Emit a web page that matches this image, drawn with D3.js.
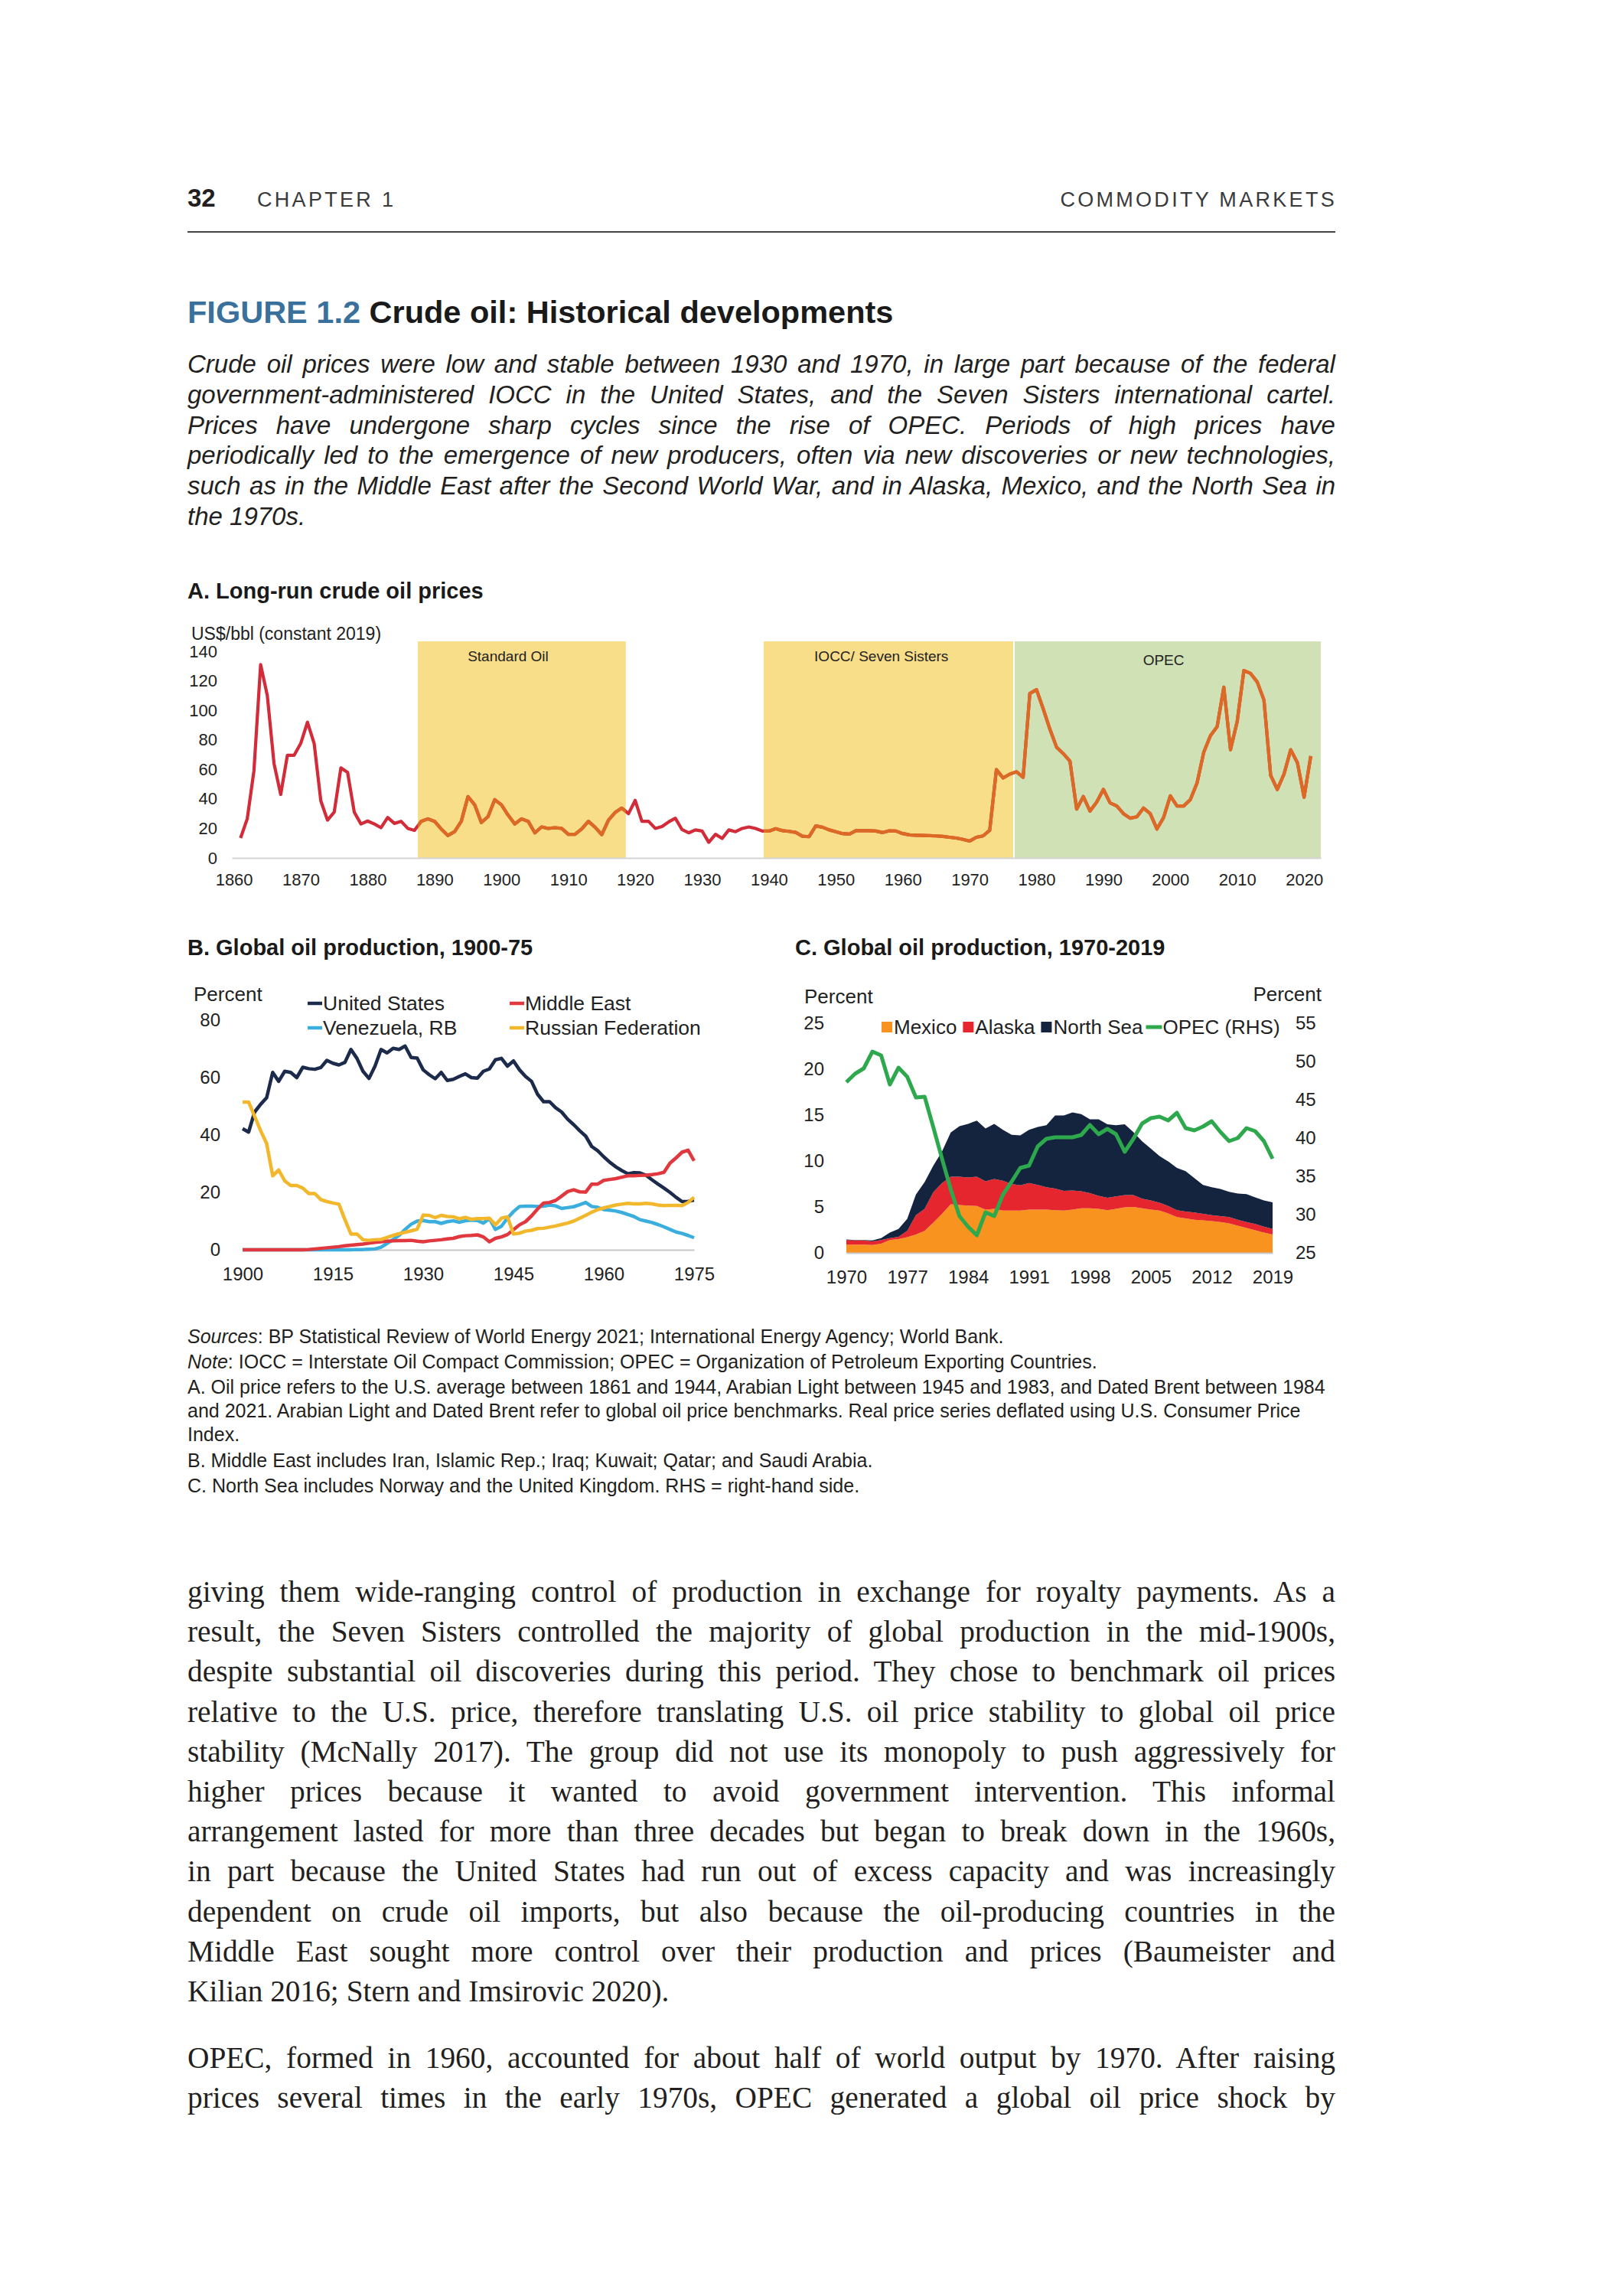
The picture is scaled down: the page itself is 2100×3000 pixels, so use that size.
<!DOCTYPE html>
<html><head><meta charset="utf-8">
<script src="https://cdn.jsdelivr.net/npm/d3@7/dist/d3.min.js"></script>
<style>
body{margin:0;background:#fff}
svg text{font-family:"Liberation Sans",Arial,Helvetica,sans-serif}
</style></head><body>
<svg id="page" width="2100" height="3000"></svg>
<script>
// ---------------- DATA ----------------
// Panel A: long-run crude oil prices, US$/bbl (constant 2019), 1861-2021
const priceYears = d3.range(1861, 2022);
const priceValues = [
13.5,26.5,59,131,110,64,43,69.5,69.5,77.6,92,77.6,38.6,25.6,31,61,58,31,23,25,
23,20.5,27.4,23.4,24.8,20,18.7,24.8,26.5,24.8,19.6,15.2,17.8,24.8,41.6,36,24,28,39.5,36,
29,23,26.5,24.8,17,21,20,20.5,20,16,16,19.6,24.8,20.8,15.8,25.6,30.8,33.8,30,39,
24.8,24.8,20,21.3,24.4,26.9,19.2,17,19,18.2,10.6,16,13.2,19,17.8,20,21,20,18.2,18.2,
19.8,18.5,18,17.3,14.7,14.4,21.7,20.8,19,17.8,16.5,16.1,18.5,18.5,18.5,18.2,17.2,18.4,18.2,16.5,
15.6,15.4,15.2,15.1,14.9,14.6,14,13.5,12.6,11.4,14,14.9,18.7,59.8,54.2,56.8,58.4,54.6,111.4,114,
101,87.2,75,70.7,65.5,33.1,41.6,31.7,37.8,46.4,37.3,35.2,30,26.9,27.9,33.8,30,19.6,27.4,42.1,
35.2,35.2,39.5,50.8,71.6,82.8,88.9,115.7,73.3,92.4,127,125,119.2,107,56,46.4,56.8,73.3,64.6,41.2,69];
const priceTicksY = [0,20,40,60,80,100,120,140];
const priceTicksX = [1860,1870,1880,1890,1900,1910,1920,1930,1940,1950,1960,1970,1980,1990,2000,2010,2020];
const periodNames = ["Standard Oil","IOCC/ Seven Sisters","OPEC"];
const periodStart = [1887.5, 1939.2, 1976.5];
const periodEnd   = [1918.6, 1976.5, 2022.5];
const periodLabelYear = [1901, 1956.8, 1999];

// Panel B: share of global oil production, percent, 1900-1975
const prodYearsB = d3.range(1900, 1976);
const usShare = [
42.2,41,48,50.7,53,61.8,58.7,62.2,61.8,60,63.6,63.1,62.9,63.5,66,65,64.4,65.3,69.8,66.7,
62.2,59.7,64,69.8,68.6,70.2,69.8,71,67,66.8,62.7,61,59.6,61.8,59,59.4,60.4,61.3,60,59.8,
62.2,63,66.2,66.7,64,65.8,62.7,60.4,58.7,54.2,51.6,51.6,49.5,48,45.5,43.6,41.5,39.6,36,34.5,
32.4,30.5,28.9,27.6,26.5,26.9,26.8,26,24.4,22.9,21.5,20,18.3,16.8,16.9,17.3];
const meShare = [
0,0,0,0,0,0,0,0,0,0,0,0.1,0.3,0.5,0.7,0.9,1.1,1.4,1.6,1.8,
2,2.3,2.6,2.8,3,3.1,3.2,3.2,3.3,3,2.8,3.1,3.3,3.5,3.8,4,4.6,4.9,5,5.2,
4.5,2.8,4,4.5,5.3,7,8.7,9.8,11.8,14.2,16.3,16.5,17.2,18.7,20.3,20.9,20.2,20.1,22.9,22.9,
24.2,24.5,24.8,25.3,25.8,25.8,25.9,26,26.2,26.5,27,30.2,32,34,34.7,31];
const venShare = [
0,0,0,0,0,0,0,0,0,0,0,0,0,0,0,0,0,0,0,0.1,
0.1,0.2,0.3,0.9,2.2,3.6,5,7.1,8.9,10,10.2,9.8,9.8,9.2,9.8,10.1,9.6,10.1,10.3,10.2,
9.3,10.9,7.1,8.2,11,13.3,15.1,15.2,15.2,15.1,15.2,15.6,15.3,14.4,14.7,15,15.7,16.5,15.1,14.8,
14,13.8,13.5,13,12.3,11.6,10.5,10,9.5,8.8,8,7.1,6.2,5.7,5,4.2];
const rusShare = [
51.5,51.5,46.5,41.5,37,25.8,27.8,24,22.4,22.4,21.5,19.6,19.6,17.5,16.8,16.3,15.9,10.5,5.5,5.5,
3.5,3.3,3.5,3.6,4.3,5,5.6,6.1,6.6,7.2,12.1,12,11.2,12,11.6,11.5,10.8,11.3,10.6,10.9,
10.9,11,8.7,11,11.5,5.5,5.8,6.5,6.8,7.4,7.5,7.9,8.3,8.8,9.3,10,11,12,13.1,14,
14.6,15.1,15.6,15.9,16.2,16,16,16.2,16,15.6,15.4,15.5,15.5,15.4,16.5,18.3];
const seriesNamesB = ["United States","Middle East","Venezuela, RB","Russian Federation"];
const ticksBY = [0,20,40,60,80];
const ticksBX = [1900,1915,1930,1945,1960,1975];

// Panel C: share of global oil production, percent, 1970-2019
const prodYearsC = d3.range(1970, 2020);
const mexicoShare = [
0.9,0.9,0.9,0.85,1.0,1.4,1.5,1.7,2.0,2.4,3.3,4.25,5.3,5.2,5.15,5.1,4.7,4.8,4.6,4.6,
4.6,4.7,4.7,4.7,4.65,4.6,4.7,4.85,4.85,4.8,4.65,4.8,4.95,5.0,4.85,4.7,4.6,4.3,3.9,3.75,
3.6,3.55,3.45,3.35,3.2,2.95,2.7,2.45,2.2,2.0];
const alaskaShare = [
0.5,0.45,0.45,0.4,0.4,0.2,0.25,0.7,2.1,2.4,3.3,3.35,3.0,3.1,3.05,3.2,3.1,3.25,3.25,2.9,
2.75,2.9,2.7,2.45,2.35,2.15,2.1,1.85,1.65,1.4,1.35,1.35,1.35,1.3,1.05,1.0,0.85,0.8,0.75,0.75,
0.8,0.7,0.65,0.65,0.7,0.65,0.65,0.7,0.65,0.6];
const northSeaShare = [
0.05,0.05,0.05,0.1,0.2,0.6,0.85,1.3,2.25,2.9,2.9,3.45,4.8,5.5,5.85,6.1,5.75,6.0,5.55,5.35,
5.45,5.8,6.3,6.75,7.95,8.2,8.5,8.4,8.05,8.35,8.0,7.75,7.7,6.85,6.25,5.65,5.1,4.85,4.6,4.4,
3.75,3.15,3.05,2.95,2.75,2.85,3.05,2.9,2.85,2.9];
const opecShare = [
47.3,48.4,49.1,51.3,50.8,47.0,49.2,48.0,45.3,45.4,41.4,37.3,33.3,29.8,28.4,27.3,30.3,29.8,32.6,34.3,
36.1,36.4,38.9,39.9,40.1,40.1,40.1,40.4,41.7,40.5,41.2,40.5,38.2,39.9,41.9,42.6,42.8,42.3,43.3,41.3,
41.0,41.5,42.2,40.8,39.6,40.0,41.3,40.9,39.6,37.3];
const ticksCL = [0,5,10,15,20,25];
const ticksCR = [25,30,35,40,45,50,55];
const ticksCX = [1970,1977,1984,1991,1998,2005,2012,2019];

// ---------------- TEXT ----------------
const captionLines = [
"Crude oil prices were low and stable between 1930 and 1970, in large part because of the federal",
"government-administered IOCC in the United States, and the Seven Sisters international cartel.",
"Prices have undergone sharp cycles since the rise of OPEC. Periods of high prices have",
"periodically led to the emergence of new producers, often via new discoveries or new technologies,",
"such as in the Middle East after the Second World War, and in Alaska, Mexico, and the North Sea in",
"the 1970s."];
const noteLines = [
["Sources",": BP Statistical Review of World Energy 2021; International Energy Agency; World Bank."],
["Note",": IOCC = Interstate Oil Compact Commission; OPEC = Organization of Petroleum Exporting Countries."],
["","A. Oil price refers to the U.S. average between 1861 and 1944, Arabian Light between 1945 and 1983, and Dated Brent between 1984"],
["","and 2021. Arabian Light and Dated Brent refer to global oil price benchmarks. Real price series deflated using U.S. Consumer Price"],
["","Index."],
["","B. Middle East includes Iran, Islamic Rep.; Iraq; Kuwait; Qatar; and Saudi Arabia."],
["","C. North Sea includes Norway and the United Kingdom. RHS = right-hand side."]];
const bodyPara1 = [
"giving them wide-ranging control of production in exchange for royalty payments. As a",
"result, the Seven Sisters controlled the majority of global production in the mid-1900s,",
"despite substantial oil discoveries during this period. They chose to benchmark oil prices",
"relative to the U.S. price, therefore translating U.S. oil price stability to global oil price",
"stability (McNally 2017). The group did not use its monopoly to push aggressively for",
"higher prices because it wanted to avoid government intervention. This informal",
"arrangement lasted for more than three decades but began to break down in the 1960s,",
"in part because the United States had run out of excess capacity and was increasingly",
"dependent on crude oil imports, but also because the oil-producing countries in the",
"Middle East sought more control over their production and prices (Baumeister and",
"Kilian 2016; Stern and Imsirovic 2020)."];
const bodyPara2 = [
"OPEC, formed in 1960, accounted for about half of world output by 1970. After raising",
"prices several times in the early 1970s, OPEC generated a global oil price shock by"];

// ---------------- DRAW ----------------
const svg = d3.select("#page");
svg.append("rect").attr("width",2100).attr("height",3000).attr("fill","#fff");
const SERIF = '"Liberation Serif","Times New Roman",serif';
const INK = "#231f20";
const L = 245, R = 1745, W = R - L;

function justify(t, width){
  const node = t.node();
  const n = (node.textContent.match(/ /g)||[]).length;
  if(!n) return;
  const w = node.getComputedTextLength();
  t.style("word-spacing", ((width - w)/n).toFixed(2)+"px");
}
// font size so that a probe string has the given natural width
function fitSize(str, baseFs, targetW, attrs){
  const p = svg.append("text").attr("font-size",baseFs).text(str);
  Object.entries(attrs||{}).forEach(([k,v])=>p.attr(k,v));
  const w = p.node().getComputedTextLength();
  p.remove();
  return baseFs * targetW / w;
}

// Header
svg.append("text").attr("x",L).attr("y",270).attr("font-size",33).attr("font-weight","bold").attr("fill",INK).text("32");
svg.append("text").attr("x",336).attr("y",270).attr("font-size",27).attr("letter-spacing",3.3).attr("fill","#3a3a3a").text("CHAPTER 1");
svg.append("text").attr("x",R+2).attr("y",270).attr("font-size",27).attr("letter-spacing",3.3).attr("text-anchor","end").attr("fill","#3a3a3a").text("COMMODITY MARKETS");
svg.append("line").attr("x1",L).attr("x2",R).attr("y1",303).attr("y2",303).attr("stroke","#444").attr("stroke-width",2);

// Title
const ttl = svg.append("text").attr("x",L).attr("y",422).attr("font-size",41.5).attr("font-weight","bold");
ttl.append("tspan").attr("fill","#3a719c").text("FIGURE 1.2");
ttl.append("tspan").attr("fill","#1a1a1a").text(" Crude oil: Historical developments");

// Caption
const capFs = Math.min(33, fitSize(captionLines[3], 30, 1490, {"font-style":"italic"}));
captionLines.forEach((s,i)=>{
  const t = svg.append("text").attr("x",L).attr("y",487+i*39.8).attr("font-size",capFs)
    .attr("font-style","italic").attr("fill",INK).text(s);
  if(i < captionLines.length-1) justify(t, W);
});

// ---------- Panel A ----------
const gA = svg.append("g");
gA.append("text").attr("x",L).attr("y",782).attr("font-size",29).attr("font-weight","bold").attr("fill","#1a1a1a").text("A. Long-run crude oil prices");
const xA = d3.scaleLinear().domain([1859.7, 2022.5]).range([303, 1726]);
const yA = d3.scaleLinear().domain([0,140]).range([1121, 851]);
const shadeTop = yA(140) - 13;
const periods = periodNames.map((n,i)=>({name:n, s:periodStart[i], e:periodEnd[i], ly:periodLabelYear[i], i}));
const shadeFill = ["#F9DE8A","#F9DE8A","#CFE1B5"];
gA.selectAll("rect.shade").data(periods).join("rect").attr("class","shade")
  .attr("x",d=>xA(d.s) + (d.i===2?2:0)).attr("width",d=>xA(d.e)-xA(d.s)-(d.i===2?2:0))
  .attr("y",shadeTop).attr("height",yA(0)-shadeTop).attr("fill",(d)=>shadeFill[d.i]);
gA.selectAll("text.plab").data(periods).join("text").attr("class","plab")
  .attr("x",d=>xA(d.ly)).attr("y",d=>d.i===2?869:864).attr("text-anchor","middle")
  .attr("font-size",19).attr("fill","#222").text(d=>d.name);
const clip = svg.append("defs").append("clipPath").attr("id","shadeClip");
clip.selectAll("rect").data(periods).join("rect")
  .attr("x",d=>xA(d.s)).attr("width",d=>xA(d.e)-xA(d.s)).attr("y",shadeTop-60).attr("height",yA(0)-shadeTop+80);
const priceData = priceYears.map((y,i)=>({y, v:priceValues[i]}));
const lineA = d3.line().x(d=>xA(d.y)).y(d=>yA(d.v));
const axA = gA.append("g").attr("transform",`translate(0,${yA(0)})`)
  .call(d3.axisBottom(xA).tickValues(priceTicksX).tickSize(0).tickSizeOuter(0).tickFormat(d3.format("d")));
axA.select(".domain").attr("stroke","#d4d4d4").attr("stroke-width",2);
axA.selectAll("text").attr("y",36).attr("dy",0).attr("font-size",22).attr("fill","#222").attr("font-family",null);
gA.append("path").datum(priceData).attr("d",lineA).attr("fill","none").attr("stroke","#D22B3A")
  .attr("stroke-width",4.2).attr("stroke-linejoin","round");
gA.append("path").datum(priceData).attr("d",lineA).attr("fill","none").attr("stroke","#DC6A25")
  .attr("stroke-width",4.2).attr("stroke-linejoin","round").attr("clip-path","url(#shadeClip)");
const ayA = gA.append("g").attr("transform","translate(284,0)")
  .call(d3.axisLeft(yA).tickValues(priceTicksY).tickSize(0).tickPadding(0));
ayA.select(".domain").remove();
ayA.selectAll("text").attr("font-size",22).attr("fill","#222").attr("font-family",null);
gA.append("text").attr("x",250).attr("y",836).attr("font-size",23).attr("fill","#222").text("US$/bbl (constant 2019)");

// ---------- Panel B ----------
const gB = svg.append("g");
gB.append("text").attr("x",L).attr("y",1248).attr("font-size",29).attr("font-weight","bold").attr("fill","#1a1a1a").text("B. Global oil production, 1900-75");
const xB = d3.scaleLinear().domain([1900,1975]).range([317,907]);
const yB = d3.scaleLinear().domain([0,80]).range([1633,1333]);
const colorsB = ["#1c2b4b","#e0383e","#3aafdd","#f2b72a"];
const valuesB = [usShare, meShare, venShare, rusShare];
const axB = gB.append("g").attr("transform",`translate(0,${yB(0)})`)
  .call(d3.axisBottom(xB).tickValues(ticksBX).tickSize(0).tickSizeOuter(0).tickFormat(d3.format("d")));
axB.select(".domain").attr("stroke","#c8c8c8").attr("stroke-width",2);
axB.selectAll("text").attr("y",40).attr("dy",0).attr("font-size",24).attr("fill","#222").attr("font-family",null);
const ayB = gB.append("g").attr("transform","translate(288,0)")
  .call(d3.axisLeft(yB).tickValues(ticksBY).tickSize(0).tickPadding(0));
ayB.select(".domain").remove();
ayB.selectAll("text").attr("font-size",24).attr("fill","#222").attr("font-family",null);
const lineB = d3.line().x((d,i)=>xB(prodYearsB[i])).y(d=>yB(d));
const drawOrderB = [2,0,1,3];
drawOrderB.forEach(k=>{
  gB.append("path").datum(valuesB[k]).attr("d",lineB).attr("fill","none").attr("stroke",colorsB[k])
    .attr("stroke-width",4.5).attr("stroke-linejoin","round");
});
gB.append("text").attr("x",253).attr("y",1308).attr("font-size",26).attr("fill","#222").text("Percent");
const legColX = [402,666], legRowY = [1311,1343];
seriesNamesB.forEach((n,i)=>{
  const cx = legColX[i%2], cy = legRowY[Math.floor(i/2)];
  gB.append("line").attr("x1",cx).attr("x2",cx+19).attr("y1",cy).attr("y2",cy).attr("stroke",colorsB[i]).attr("stroke-width",4.5);
  gB.append("text").attr("x",cx+20).attr("y",cy+9).attr("font-size",26.5).attr("fill","#222").text(n);
});

// ---------- Panel C ----------
const gC = svg.append("g");
gC.append("text").attr("x",1039).attr("y",1248).attr("font-size",29).attr("font-weight","bold").attr("fill","#1a1a1a").text("C. Global oil production, 1970-2019");
const xC = d3.scaleLinear().domain([1970,2019]).range([1106,1663]);
const yCL = d3.scaleLinear().domain([0,25]).range([1637,1337]);
const yCR = d3.scaleLinear().domain([25,55]).range([1637,1337]);
const keysC = ["Mexico","Alaska","North Sea"];
const colorsC = ["#f7931e","#e5262f","#14243f"];
const rowsC = prodYearsC.map((y,i)=>({year:y, "Mexico":mexicoShare[i], "Alaska":alaskaShare[i], "North Sea":northSeaShare[i]}));
const stackC = d3.stack().keys(keysC)(rowsC);
const areaC = d3.area().x(d=>xC(d.data.year)).y0(d=>yCL(d[0])).y1(d=>yCL(d[1]));
gC.selectAll("path.area").data(stackC).join("path").attr("class","area").attr("d",areaC).attr("fill",(d,i)=>colorsC[i]);
const axC = gC.append("g").attr("transform",`translate(0,${yCL(0)})`)
  .call(d3.axisBottom(xC).tickValues(ticksCX).tickSize(0).tickSizeOuter(0).tickFormat(d3.format("d")));
axC.select(".domain").attr("stroke","#c8c8c8").attr("stroke-width",2);
axC.selectAll("text").attr("y",40).attr("dy",0).attr("font-size",24).attr("fill","#222").attr("font-family",null);
const ayCL = gC.append("g").attr("transform","translate(1077,0)")
  .call(d3.axisLeft(yCL).tickValues(ticksCL).tickSize(0).tickPadding(0));
ayCL.select(".domain").remove();
ayCL.selectAll("text").attr("font-size",24).attr("fill","#222").attr("font-family",null);
const ayCR = gC.append("g").attr("transform","translate(1693,0)")
  .call(d3.axisRight(yCR).tickValues(ticksCR).tickSize(0).tickPadding(0));
ayCR.select(".domain").remove();
ayCR.selectAll("text").attr("font-size",24).attr("fill","#222").attr("font-family",null);
const lineC = d3.line().x((d,i)=>xC(prodYearsC[i])).y(d=>yCR(d));
gC.append("path").datum(opecShare).attr("d",lineC).attr("fill","none").attr("stroke","#2ea84d")
  .attr("stroke-width",5).attr("stroke-linejoin","round");
gC.append("text").attr("x",1051).attr("y",1311).attr("font-size",26).attr("fill","#222").text("Percent");
gC.append("text").attr("x",1727).attr("y",1308).attr("font-size",26).attr("fill","#222").attr("text-anchor","end").text("Percent");
let lx = 1152; const ly = 1342;
keysC.concat(["OPEC (RHS)"]).forEach((n,i)=>{
  if(i<3){
    gC.append("rect").attr("x",lx).attr("y",ly-7).attr("width",14).attr("height",14).attr("fill",colorsC[i]);
    lx += 16;
  } else {
    gC.append("line").attr("x1",lx-4).attr("x2",lx+17).attr("y1",ly).attr("y2",ly).attr("stroke","#2ea84d").attr("stroke-width",5);
    lx += 18;
  }
  const t = gC.append("text").attr("x",lx).attr("y",ly+9).attr("font-size",26).attr("fill","#222").text(n);
  lx += t.node().getComputedTextLength() + 8;
});

// ---------- Notes ----------
const noteY = [1755,1788,1821,1852,1883,1917,1950];
const noteFs = fitSize(noteLines[2][1], 23, 1487);
noteLines.forEach((p,i)=>{
  const t = svg.append("text").attr("x",L).attr("y",noteY[i]).attr("font-size",noteFs).attr("fill",INK);
  if(p[0]) t.append("tspan").attr("font-style","italic").text(p[0]);
  t.append("tspan").text(p[1]);
});

// ---------- Body ----------
const bodyFs = fitSize(bodyPara1[bodyPara1.length-1], 38, 676, {"font-family":SERIF});
function para(lines, y0, justifyLast){
  lines.forEach((s,i)=>{
    const t = svg.append("text").attr("x",L).attr("y",y0+i*52.2).attr("font-size",bodyFs)
      .attr("font-family",SERIF).style("font-family",SERIF).attr("fill",INK).text(s);
    if(i < lines.length-1 || justifyLast) justify(t, W);
  });
}
para(bodyPara1, 2093, false);
para(bodyPara2, 2702, true);
</script></body></html>
